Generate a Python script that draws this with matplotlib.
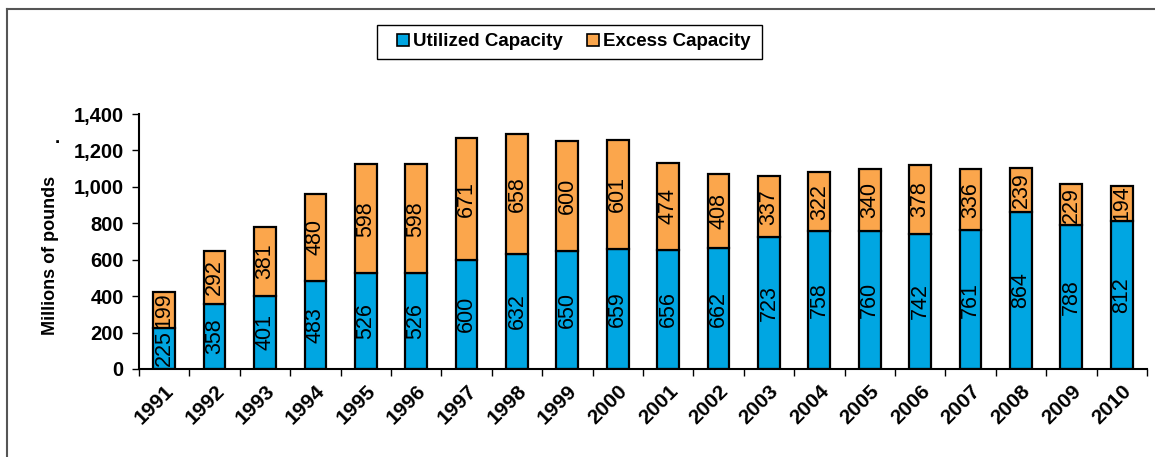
import matplotlib.pyplot as plt
from matplotlib.lines import Line2D
from matplotlib.patches import Patch, Rectangle
import numpy as np

plt.rcParams['font.family'] = ['Liberation Sans', 'DejaVu Sans']

years = ['1991', '1992', '1993', '1994', '1995', '1996', '1997', '1998', '1999', '2000',
         '2001', '2002', '2003', '2004', '2005', '2006', '2007', '2008', '2009', '2010']
utilized = [225, 358, 401, 483, 526, 526, 600, 632, 650, 659,
            656, 662, 723, 758, 760, 742, 761, 864, 788, 812]
excess = [199, 292, 381, 480, 598, 598, 671, 658, 600, 601,
          474, 408, 337, 322, 340, 378, 336, 239, 229, 194]

blue = '#00A6E2'
orange = '#FBA64C'

fig = plt.figure(figsize=(11.55, 4.57), dpi=100)
ax = fig.add_axes([0.1203, 0.1926, 0.8727, 0.5579])

x = np.arange(len(years))
w = 0.43
ax.bar(x, utilized, w, color=blue, edgecolor='black', linewidth=1.6)
ax.bar(x, excess, w, bottom=utilized, color=orange, edgecolor='black', linewidth=1.6)

for i in range(len(years)):
    ax.text(x[i], utilized[i] / 2, str(utilized[i]), rotation=90, ha='center', va='center',
            fontsize=15.5)
    ax.text(x[i], utilized[i] + excess[i] / 2, str(excess[i]), rotation=90, ha='center',
            va='center', fontsize=15.5)

ax.set_xlim(-0.5, len(years) - 0.5)
ax.set_ylim(0, 1400)
ax.set_yticks(range(0, 1401, 200))
ax.set_yticklabels([f'{v:,}' for v in range(0, 1401, 200)], fontsize=14.5, fontweight='bold')
ax.set_xticks(x)
ax.set_xticklabels(years, rotation=45, ha='right', rotation_mode='anchor',
                   fontsize=15, fontweight='bold')
ax.set_xticks(np.arange(-0.5, len(years), 1), minor=True)
ax.tick_params(axis='x', which='major', length=0, pad=9)
ax.tick_params(axis='x', which='minor', length=5, width=1, direction='out')
ax.tick_params(axis='y', length=5, width=1, direction='out', pad=6)

ax.spines['top'].set_visible(False)
ax.spines['right'].set_visible(False)
ax.spines['left'].set_linewidth(1.5)
ax.spines['bottom'].set_linewidth(1.5)

fig.text(0.044, 0.442, 'Millions of pounds', rotation=90, ha='center', va='center',
         fontsize=13, fontweight='bold')
fig.text(0.050, 0.697, '.', ha='center', va='center', fontsize=13.5, fontweight='bold')

# legend box drawn by hand, entries placed inside it
fig.add_artist(Rectangle((377 / 1155, 1 - 59 / 457), 385 / 1155, 34 / 457,
                         transform=fig.transFigure, facecolor='white', edgecolor='black',
                         linewidth=1.0))
handles = [Patch(facecolor=blue, edgecolor='black', linewidth=1.2),
           Patch(facecolor=orange, edgecolor='black', linewidth=1.2)]
fig.legend(handles, ['Utilized Capacity', 'Excess Capacity'], loc='center',
           bbox_to_anchor=(574 / 1155, 1 - 42 / 457), ncol=2, frameon=False,
           prop={'size': 13.5, 'weight': 'bold'}, handlelength=0.6, handleheight=0.6,
           handletextpad=0.25, columnspacing=1.3, borderpad=0.2)

# outer frame (top and left only visible)
fig.add_artist(Line2D([7 / 1155, 1], [1 - 9 / 457, 1 - 9 / 457], color='#555555', lw=1.5))
fig.add_artist(Line2D([7 / 1155, 7 / 1155], [0, 1 - 9 / 457], color='#555555', lw=1.5))

fig.savefig('out.png', dpi=100)
